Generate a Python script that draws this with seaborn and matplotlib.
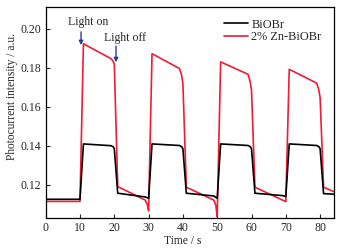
import pandas as pd
import matplotlib.pyplot as plt
import seaborn as sns

# =============================
# DATOS
# =============================
time_biobr = [0, 10, 11, 19, 19.7, 20, 21, 29, 30, 31, 39, 39.7, 40, 41, 49, 50,
              51, 59, 59.7, 60, 61, 69, 70, 71, 79, 79.7, 80, 81, 84]
current_biobr = [0.1126, 0.1126, 0.1410, 0.1401, 0.1395, 0.1385, 0.1157, 0.1138, 0.1131,
                 0.1410, 0.1402, 0.1395, 0.1385, 0.1157, 0.1143, 0.1131,
                 0.1410, 0.1402, 0.1395, 0.1385, 0.1157, 0.1145, 0.1140,
                 0.1410, 0.1402, 0.1395, 0.1385, 0.1155, 0.1152]

time_zn = [0, 10, 11, 19, 19.6, 20, 21, 29, 29.6, 30, 31, 39, 39.6, 40, 41, 49, 49.6, 50,
           51, 59, 59.6, 60, 61, 69, 70, 71, 79, 79.6, 80, 81, 84]
current_zn = [0.1115, 0.1115, 0.1924, 0.1848, 0.1836, 0.1820, 0.1191, 0.1122, 0.1100, 0.1067,
              0.1873, 0.1797, 0.1765, 0.1720, 0.1188, 0.1122, 0.1095, 0.1036,
              0.1831, 0.1767, 0.1730, 0.1685, 0.1188, 0.1122, 0.1114,
              0.1793, 0.1722, 0.1690, 0.1648, 0.1188, 0.1165]

labels = ["BiOBr", "2% Zn-BiOBr"]
colors = {"BiOBr": "black", "2% Zn-BiOBr": "#ee1c35"}

df_b = pd.DataFrame({"t": time_biobr, "i": current_biobr, "sample": labels[0]})
df_z = pd.DataFrame({"t": time_zn, "i": current_zn, "sample": labels[1]})

# =============================
# FIGURA
# =============================
sns.set_style("ticks")
plt.rcParams["font.family"] = ["Liberation Serif", "DejaVu Serif"]
plt.rcParams["font.size"] = 8.5

fig, ax = plt.subplots(figsize=(3.41, 2.52), dpi=100)
fig.subplots_adjust(left=0.134, right=0.979, bottom=0.135, top=0.974)

sns.lineplot(data=df_z, x="t", y="i", color=colors[labels[1]], lw=1.2,
             label=labels[1], ax=ax, zorder=2)
sns.lineplot(data=df_b, x="t", y="i", color=colors[labels[0]], lw=1.2,
             label=labels[0], ax=ax, zorder=3)

ax.set_xlim(0, 84)
ax.set_ylim(0.103, 0.2115)
ax.set_xticks([0, 10, 20, 30, 40, 50, 60, 70, 80])
ax.set_yticks([0.12, 0.14, 0.16, 0.18, 0.20])
ax.set_yticklabels(["0.12", "0.14", "0.16", "0.18", "0.20"])
ax.tick_params(direction="in", length=3, width=0.8, labelsize=8.5, pad=3)
for sp in ax.spines.values():
    sp.set_visible(True)
    sp.set_linewidth(0.9)
    sp.set_color("black")

ax.set_xlabel("Time / s", fontsize=8.3)
ax.set_ylabel("Photocurrent intensity / a.u.", fontsize=8.3)
ax.xaxis.set_label_coords(0.474, -0.08)
ax.yaxis.set_label_coords(-0.095, 0.574)

handles, lbls = ax.get_legend_handles_labels()
order = [lbls.index(labels[0]), lbls.index(labels[1])]
ax.legend([handles[i] for i in order], [lbls[i] for i in order], loc="upper right",
          frameon=False, fontsize=8.8, handlelength=2.0, borderaxespad=0.6,
          labelspacing=0.05, handletextpad=0.25)

arrow_kw = dict(arrowstyle="-|>", color="#2a3a9a", lw=1.0,
                shrinkA=0, shrinkB=0, mutation_scale=6)
ax.text(12.3, 0.2036, "Light on", ha="center", va="center", fontsize=8.5)
ax.annotate("", xy=(10.3, 0.1917), xytext=(10.3, 0.1985), arrowprops=arrow_kw)
ax.text(23.1, 0.1953, "Light off", ha="center", va="center", fontsize=8.5)
ax.annotate("", xy=(20.5, 0.1829), xytext=(20.5, 0.1912), arrowprops=arrow_kw)

fig.savefig("out.png", dpi=100)
